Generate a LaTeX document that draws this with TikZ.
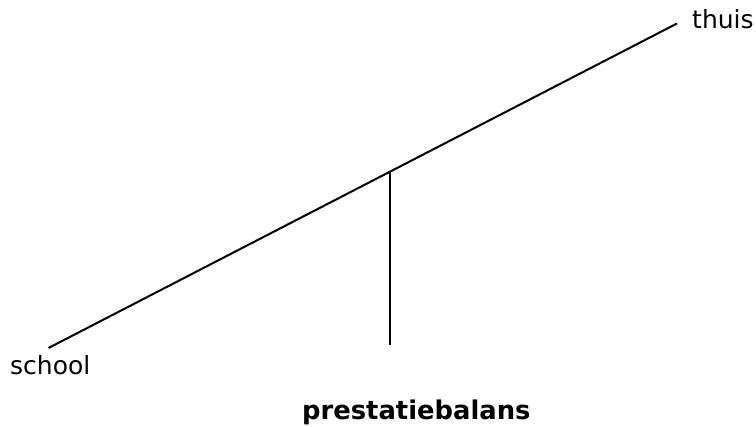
\documentclass[tikz,border=0pt]{standalone}
\usepackage{fontspec}
\setmainfont{DejaVu Sans}
\begin{document}
\begin{tikzpicture}[x=1pt,y=-1pt,
  beam/.style={line width=2pt, black},
  lab/.style={inner sep=0pt, anchor=base west, font=\fontsize{25}{30}\selectfont},
  title/.style={inner sep=0pt, anchor=base west, font=\bfseries\fontsize{25.8}{30}\selectfont}]
\useasboundingbox (0,0) rectangle (756,427);
\coordinate (L) at (48.5,348);
\coordinate (R) at (677,23.5);
\coordinate (P) at (389.5,172);
\coordinate (B) at (389.5,345);
\draw[beam] (L) -- (R);
\draw[beam] (P) -- (B);
\node[lab] (school) at (10,375) {school};
\node[lab] (thuis) at (692,29) {thuis};
\node[title] (balans) at (302,420) {prestatiebalans};
\end{tikzpicture}
\end{document}
